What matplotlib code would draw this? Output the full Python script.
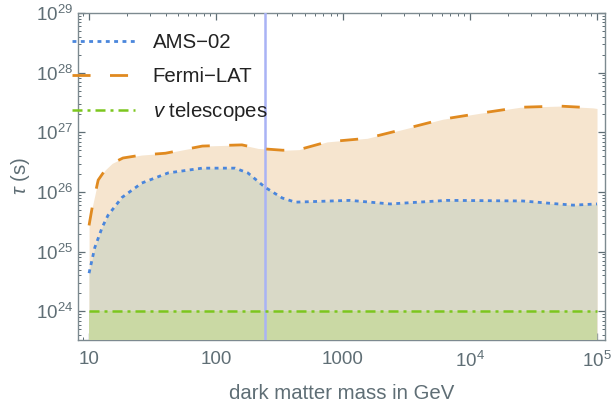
import numpy as np
import matplotlib
matplotlib.use('Agg')
import matplotlib.pyplot as plt
from matplotlib.ticker import FixedLocator, FixedFormatter, LogLocator, NullFormatter

plt.rcParams['font.family'] = ['Liberation Sans', 'DejaVu Sans']
plt.rcParams['mathtext.fontset'] = 'custom'
plt.rcParams['mathtext.rm'] = 'Liberation Sans'
plt.rcParams['mathtext.it'] = 'Liberation Sans:italic'

# Fermi-LAT lower bound on lifetime (mass in GeV, log10 of tau in s)
fermi_mass = [10, 10.6, 11.8, 13.4, 15.2, 18.5, 26, 40, 78, 160, 215, 336, 450,
              750, 1550, 2970, 6100, 12000, 24800, 51000, 93000, 1e5]
fermi_logtau = [25.44, 25.75, 26.20, 26.37, 26.48, 26.57, 26.62, 26.65, 26.77, 26.79,
                26.73, 26.70, 26.71, 26.84, 26.90, 27.05, 27.22, 27.32, 27.42, 27.44,
                27.41, 27.40]

# AMS-02 bound
ams_mass = [10, 11.1, 12.7, 14.1, 18.2, 26, 42, 78, 141, 178, 243, 332, 420,
            1135, 2350, 6600, 26000, 43000, 65000, 1e5]
ams_logtau = [24.64, 25.07, 25.41, 25.61, 25.91, 26.15, 26.32, 26.40, 26.40, 26.32,
              26.08, 25.90, 25.83, 25.86, 25.80, 25.86, 25.85, 25.81, 25.78, 25.80]

# neutrino telescopes bound
nu_mass = [10, 1e5]
nu_logtau = [24, 24]

vline_mass = 245

x_ticks = [10, 100, 1000, 1e4, 1e5]
x_labels = ['10', '100', '1000', r'$10^{4}$', r'$10^{5}$']
y_ticks = [1e24, 1e25, 1e26, 1e27, 1e28, 1e29]
y_labels = [r'$10^{%d}$' % n for n in range(24, 30)]

fermi_tau = np.power(10.0, fermi_logtau)
ams_tau = np.power(10.0, ams_logtau)
nu_tau = np.power(10.0, nu_logtau)

grey = '#5f6e75'
fig = plt.figure(figsize=(6.11, 4.05), dpi=100)
ax = fig.add_axes([78 / 611, 65 / 405, 527 / 611, 327 / 405])
ax.set_xscale('log')
ax.set_yscale('log')
ax.set_xlim(10 ** 0.913, 10 ** 5.063)
ax.set_ylim(10 ** 23.52, 1e29)
ybot = 10 ** 23.52

# fills
ax.fill_between(fermi_mass, ybot, fermi_tau, color='#f6e5cf', lw=0, zorder=1)
ax.fill_between(ams_mass, ybot, ams_tau, color='#d9d9c7', lw=0, zorder=2)
ax.fill_between(nu_mass, ybot, nu_tau, color='#cad9a4', lw=0, zorder=3)

ax.axvline(vline_mass, color='#a9b3f5', lw=1.8, zorder=4)

ax.plot(ams_mass, ams_tau, color='#4a86dc', lw=2.0, dashes=(1.4, 1.6),
        label='AMS\u221202', zorder=5)
ax.plot(fermi_mass, fermi_tau, color='#e08a20', lw=2.0, dashes=(6.5, 7.0),
        label='Fermi\u2212LAT', zorder=5)
ax.plot(nu_mass, nu_tau, color='#7cc61e', lw=1.8, dashes=(4, 2, 1.2, 2),
        label=r'$\mathit{v}$ telescopes', zorder=5)

ax.xaxis.set_major_locator(FixedLocator(x_ticks))
ax.xaxis.set_major_formatter(FixedFormatter(x_labels))
ax.xaxis.set_minor_locator(LogLocator(base=10, subs=np.arange(2, 10)))
ax.xaxis.set_minor_formatter(NullFormatter())
ax.yaxis.set_major_locator(FixedLocator(y_ticks))
ax.yaxis.set_major_formatter(FixedFormatter(y_labels))
ax.yaxis.set_minor_locator(LogLocator(base=10, subs=np.arange(2, 10), numticks=20))
ax.yaxis.set_minor_formatter(NullFormatter())

ax.tick_params(which='both', direction='in', top=True, right=True, color=grey,
               labelcolor=grey, labelsize=13.5)
ax.tick_params(which='major', length=5, width=0.9)
ax.tick_params(which='minor', length=2.5, width=0.7)
ax.tick_params(axis='x', pad=8)
for s in ax.spines.values():
    s.set_color('#7d8a90')
    s.set_linewidth(1.0)

ax.set_xlabel('dark matter mass in GeV', color=grey, fontsize=14.7, labelpad=9)
ax.set_ylabel(r'$\tau$ (s)', color=grey, fontsize=14.7, labelpad=3)

leg = ax.legend(loc='upper left', bbox_to_anchor=(72 / 611, 1 - 33 / 405),
                bbox_transform=fig.transFigure, frameon=False, fontsize=14.7,
                handlelength=3.1, handletextpad=0.85, labelspacing=0.72,
                borderpad=0, borderaxespad=0)
for t in leg.get_texts():
    t.set_color('#222222')

fig.savefig('out.png', dpi=100)
